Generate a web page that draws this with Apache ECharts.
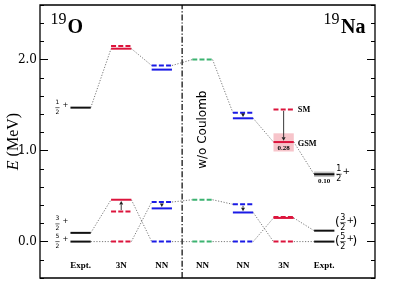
<!DOCTYPE html>
<html><head><meta charset="utf-8">
<script src="https://cdn.jsdelivr.net/npm/echarts@6/dist/echarts.min.js"></script>
<style>html,body{margin:0;padding:0;background:#fff}#c{width:399px;height:285px}</style>
</head><body><div id="c"></div>
<script>
// ---- data ----
const categories = ['Expt.', '3N', 'NN', 'NN', 'NN', '3N', 'Expt.'];
const yTickValues = [0, 1, 2];
// energy levels (MeV), column index 1..7
const o19Expt = [0, 0.096, 1.472];
const o19ThreeNSolid = [0.46, 2.12];
const o19ThreeNDashed = [0, 0.33, 2.15];
const o19NNSolid = [0.365, 1.89];
const o19NNDashed = [0, 0.435, 1.935];
const noCoulombDashed = [0, 0.46, 2.0];
const na19NNSolid = [0.32, 1.355];
const na19NNDashed = [0, 0.41, 1.417];
const na19ThreeNSolid = [0.26, 1.094];
const na19ThreeNDashed = [0, 0.27, 1.453];
const na19Expt = [0, 0.12, 0.74];
// connectors: [fromColumn, fromEnergy, toColumn, toEnergy]
const connectors = [
  [1, 1.472, 2, 2.12], [2, 2.12, 3, 1.935], [3, 1.935, 4, 2.0],
  [1, 0.096, 2, 0.46], [1, 0, 2, 0], [2, 0.46, 3, 0], [2, 0, 3, 0.435],
  [3, 0.435, 4, 0.46], [3, 0, 4, 0],
  [4, 2.0, 5, 1.417], [5, 1.355, 6, 1.094], [6, 1.094, 7, 0.74],
  [4, 0.46, 5, 0.41], [4, 0, 5, 0], [5, 0.32, 6, 0], [5, 0, 6, 0.26],
  [6, 0.26, 7, 0.12], [6, 0, 7, 0]
];
// arrows: [column, fromEnergy, toEnergy]
const arrows = [[2, 0.33, 0.46], [3, 0.435, 0.365], [5, 0.41, 0.32], [5, 1.417, 1.355], [6, 1.453, 1.094]];
// width boxes: [column, low, high, level]
const widthBoxes = [[6, 0.99, 1.19, 1.094], [7, 0.71, 0.77, 0.74]];
const widthLabels = ['0.28', '0.10'];
// model labels next to levels: [column, energy]
const modelLabelPos = [[6, 1.453], [6, 1.094]];
const modelLabels = ['SM', 'GSM'];
// spin labels: [column, energy, numerator, denominator]
const spinO = [[1, 1.472, '1', '2'], [1, 0.096, '3', '2'], [1, 0, '5', '2']];
const spinNa = [[7, 0.74, '1', '2'], [7, 0.12, '3', '2'], [7, 0, '5', '2']];
const spinNaTentative = [false, true, true];
const dividerX = 3.5;

// ---- styles ----
const HW = 0.25;
const RED = '#dc143c', BLUE = '#1a1ae6', GREEN = '#3cb371', BLACK = '#111';
const SERIF = 'Liberation Serif, Times New Roman, serif';
const spinShiftO = [0, -9, 0];
const spinShiftNa = [0, -8, 0];

function levelSeries(col, energies, color, dashed) {
  return {
    type: 'custom', coordinateSystem: 'cartesian2d', silent: true, z: 4,
    data: energies.map(e => [col, e]), encode: { x: 0, y: 1 },
    renderItem: (p, api) => {
      const a = api.coord([api.value(0) - HW, api.value(1)]);
      const b = api.coord([api.value(0) + HW, api.value(1)]);
      return { type: 'line', shape: { x1: a[0], y1: a[1], x2: b[0], y2: b[1] },
        style: { stroke: color, lineWidth: 2, lineDash: dashed ? [5, 2.2] : null } };
    }
  };
}

const series = [
  levelSeries(1, o19Expt, BLACK, false),
  levelSeries(2, o19ThreeNSolid, RED, false),
  levelSeries(2, o19ThreeNDashed, RED, true),
  levelSeries(3, o19NNSolid, BLUE, false),
  levelSeries(3, o19NNDashed, BLUE, true),
  levelSeries(4, noCoulombDashed, GREEN, true),
  levelSeries(5, na19NNSolid, BLUE, false),
  levelSeries(5, na19NNDashed, BLUE, true),
  levelSeries(6, na19ThreeNSolid, RED, false),
  levelSeries(6, na19ThreeNDashed, RED, true),
  levelSeries(7, na19Expt, BLACK, false),
  { // connectors
    type: 'custom', coordinateSystem: 'cartesian2d', silent: true, z: 2,
    data: connectors, encode: { x: [0, 2], y: [1, 3] },
    renderItem: (p, api) => {
      const a = api.coord([api.value(0) + HW, api.value(1)]);
      const b = api.coord([api.value(2) - HW, api.value(3)]);
      return { type: 'line', shape: { x1: a[0], y1: a[1], x2: b[0], y2: b[1] },
        style: { stroke: '#7a7a7a', lineWidth: 1, lineDash: [1.2, 1.6] } };
    }
  },
  { // width boxes
    type: 'custom', coordinateSystem: 'cartesian2d', silent: true, z: 1,
    data: widthBoxes, encode: { x: 0, y: [1, 2] },
    renderItem: (p, api) => {
      const a = api.coord([api.value(0) - HW, api.value(2)]);
      const b = api.coord([api.value(0) + HW, api.value(1)]);
      const lv = api.coord([api.value(0), api.value(3)]);
      return { type: 'group', children: [
        { type: 'rect', shape: { x: a[0], y: a[1], width: b[0] - a[0], height: b[1] - a[1] },
          style: { fill: p.dataIndex === 0 ? '#f7c4ca' : '#c4c4c4' } },
        { type: 'text', x: lv[0], y: lv[1] + 6.5, z2: 10,
          style: { text: widthLabels[p.dataIndex], fill: '#000', fontSize: 7, fontWeight: 'bold',
            fontFamily: SERIF, align: 'center', verticalAlign: 'middle' } }
      ] };
    }
  },
  { // arrows
    type: 'custom', coordinateSystem: 'cartesian2d', silent: true, z: 5,
    data: arrows, encode: { x: 0, y: [1, 2] },
    renderItem: (p, api) => {
      const a = api.coord([api.value(0), api.value(1)]);
      const b = api.coord([api.value(0), api.value(2)]);
      const s = b[1] > a[1] ? 1 : -1;
      const y0 = a[1] + s * 1.5, tip = b[1] - s * 1.3, base = tip - s * 3.5;
      return { type: 'group', children: [
        { type: 'line', shape: { x1: a[0], y1: y0, x2: a[0], y2: base }, style: { stroke: '#222', lineWidth: 0.9 } },
        { type: 'polygon', shape: { points: [[a[0], tip], [a[0] - 2, base], [a[0] + 2, base]] }, style: { fill: '#222' } }
      ] };
    }
  },
  { // divider
    type: 'custom', coordinateSystem: 'cartesian2d', silent: true, z: 3,
    data: [[dividerX]], encode: { x: 0 },
    renderItem: (p, api) => {
      const a = api.coord([api.value(0), -0.4]);
      const b = api.coord([api.value(0), 2.6]);
      return { type: 'line', shape: { x1: a[0], y1: a[1], x2: b[0], y2: b[1] },
        style: { stroke: '#000', lineWidth: 1.2, lineDash: [6, 2, 1.2, 2] } };
    }
  },
  { // w/o Coulomb
    type: 'custom', coordinateSystem: 'cartesian2d', silent: true, z: 6,
    data: [[dividerX, 1.23]], encode: { x: 0, y: 1 },
    renderItem: (p, api) => {
      const a = api.coord([api.value(0), api.value(1)]);
      return { type: 'text', x: a[0] + 21, y: a[1], rotation: Math.PI / 2,
        style: { text: 'w/o Coulomb', fill: '#000', fontSize: 12, fontFamily: 'DejaVu Sans',
          align: 'center', verticalAlign: 'middle' } };
    }
  },
  { // SM / GSM labels
    type: 'custom', coordinateSystem: 'cartesian2d', silent: true, z: 6,
    data: modelLabelPos, encode: { x: 0, y: 1 },
    renderItem: (p, api) => {
      const a = api.coord([api.value(0) + HW, api.value(1)]);
      return { type: 'text', x: a[0] + 4, y: a[1] + (p.dataIndex === 1 ? 1.5 : 0),
        style: { text: modelLabels[p.dataIndex], fill: '#000', fontSize: 8.3, fontWeight: 'bold',
          fontFamily: SERIF, align: 'left', verticalAlign: 'middle' } };
    }
  },
  { // spin labels 19O (left of bars)
    type: 'custom', coordinateSystem: 'cartesian2d', silent: true, z: 6,
    data: spinO, encode: { x: 0, y: 1 },
    renderItem: (p, api) => {
      const a = api.coord([api.value(0) - HW, api.value(1)]);
      const d = spinO[p.dataIndex];
      return fraction(a[0] - 13, a[1] + spinShiftO[p.dataIndex], d[2], d[3], 6, 7, false, 8);
    }
  },
  { // spin labels 19Na (right of bars)
    type: 'custom', coordinateSystem: 'cartesian2d', silent: true, z: 6,
    data: spinNa, encode: { x: 0, y: 1 },
    renderItem: (p, api) => {
      const a = api.coord([api.value(0) + HW, api.value(1)]);
      const d = spinNa[p.dataIndex];
      const t = spinNaTentative[p.dataIndex];
      return fraction(a[0] + (t ? 8.5 : 4.5), a[1] + spinShiftNa[p.dataIndex], d[2], d[3], 8, 9, t, 7.5);
    }
  }
];

function fraction(cx, cy, num, den, fs, pfs, paren, plusDx) {
  const f = { fill: '#000', fontFamily: 'DejaVu Sans', align: 'center', verticalAlign: 'middle' };
  const ch = [
    { type: 'text', x: cx, y: cy - 5, style: Object.assign({ text: num, fontSize: fs }, f) },
    { type: 'line', shape: { x1: cx - fs * 0.35, y1: cy, x2: cx + fs * 0.35, y2: cy }, style: { stroke: '#000', lineWidth: 0.6 } },
    { type: 'text', x: cx, y: cy + 5, style: Object.assign({ text: den, fontSize: fs }, f) },
    { type: 'text', x: cx + plusDx, y: cy - 2.5, style: Object.assign({ text: '+', fontSize: pfs }, f) }
  ];
  if (paren) {
    ch.push({ type: 'text', x: cx - 5.5, y: cy, style: Object.assign({ text: '(', fontSize: 12 }, f) });
    ch.push({ type: 'text', x: cx + plusDx + 4.5, y: cy, style: Object.assign({ text: ')', fontSize: 12 }, f) });
  }
  return { type: 'group', children: ch };
}

const yBase = { type: 'value', min: -0.4, max: 2.6, splitLine: { show: false }, axisLine: { show: false } };
const chart = echarts.init(document.getElementById('c'), null, { renderer: 'canvas' });
chart.setOption({
  animation: false,
  backgroundColor: '#fff',
  grid: { left: 40, right: 24, top: 5, bottom: 7, show: true, borderColor: '#000', borderWidth: 1.3,
    containLabel: false, outerBoundsMode: 'none' },
  xAxis: {
    type: 'value', min: 0, max: 8.25, splitLine: { show: false }, axisLine: { show: false }, axisTick: { show: false },
    axisLabel: { inside: true, customValues: [1, 2, 3, 4, 5, 6, 7], formatter: v => categories[Math.round(v) - 1],
      fontFamily: SERIF, fontWeight: 'bold', fontSize: 9, color: '#000', margin: 8 }
  },
  yAxis: [
    Object.assign({}, yBase, {
      position: 'left',
      axisTick: { inside: true, length: 8, customValues: yTickValues, lineStyle: { color: '#000', width: 1 } },
      axisLabel: { customValues: yTickValues, formatter: v => v.toFixed(1), fontFamily: 'DejaVu Serif', fontSize: 12, color: '#000', margin: 3 },
      name: '{i|E} (MeV)', nameLocation: 'middle', nameGap: 18, nameRotate: 90, nameMoveOverlap: false,
      nameTextStyle: { fontFamily: SERIF, fontSize: 16, color: '#000', rich: { i: { fontStyle: 'italic', fontFamily: SERIF, fontSize: 16 } } }
    }),
    Object.assign({}, yBase, { position: 'left', interval: 0.2,
      axisTick: { inside: true, length: 4, lineStyle: { color: '#000', width: 1 } }, axisLabel: { show: false } }),
    Object.assign({}, yBase, { position: 'right',
      axisTick: { inside: true, length: 8, customValues: yTickValues, lineStyle: { color: '#000', width: 1 } }, axisLabel: { show: false } }),
    Object.assign({}, yBase, { position: 'right', interval: 0.2,
      axisTick: { inside: true, length: 4, lineStyle: { color: '#000', width: 1 } }, axisLabel: { show: false } })
  ],
  graphic: [
    { type: 'text', left: 50.5, top: 12, style: { text: '19', font: '16px ' + SERIF, fill: '#000' } },
    { type: 'text', left: 67.5, top: 17.5, style: { text: 'O', font: 'bold 20px ' + SERIF, fill: '#000' } },
    { type: 'text', left: 323.5, top: 12, style: { text: '19', font: '16px ' + SERIF, fill: '#000' } },
    { type: 'text', left: 341, top: 17.5, style: { text: 'Na', font: 'bold 20px ' + SERIF, fill: '#000' } }
  ],
  series: series
});
</script></body></html>
